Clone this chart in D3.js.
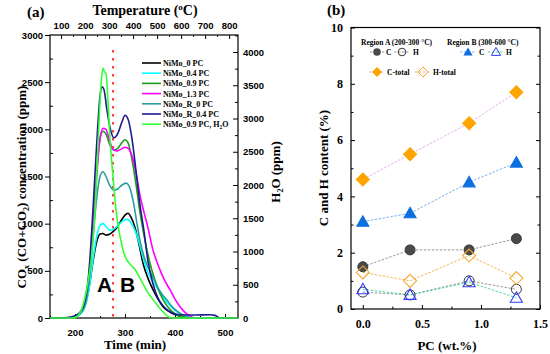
<!DOCTYPE html>
<style>
body { margin: 0; background: #fff; }
svg text { font-weight: bold; }
.axis .domain { display: none; }
.axis line { stroke: #000; stroke-width: 1; }
</style>
<svg width="550" height="354" font-family="'Liberation Serif', 'Times New Roman', serif"></svg>
<script src="https://d3js.org/d3.v7.min.js"></script>
<script>
// ---- panel (a) data: [time (min), ppm] ----
var nimo0 = [[150,0],[185,0],[200,15],[210,45],[220,130],[228,320],[236,600],[244,820],[250,890],[256,895],[262,880],[268,885],[276,915],[284,960],[292,1030],[300,1090],[306,1110],[312,1070],[320,960],[328,780],[336,580],[346,420],[356,300],[366,200],[376,120],[386,75],[396,45],[410,20],[425,5],[435,0],[525,0]];
var nimo04 = [[150,0],[190,0],[200,12],[210,40],[220,120],[228,300],[236,620],[244,880],[250,980],[256,1000],[262,970],[270,930],[278,945],[286,980],[296,1030],[304,1045],[312,1010],[320,930],[328,800],[336,640],[346,480],[356,380],[364,320],[376,220],[390,130],[404,65],[416,28],[428,8],[440,0],[525,0]];
var nimo09 = [[150,0],[190,0],[200,15],[210,50],[220,160],[228,450],[236,1000],[244,1600],[250,1900],[256,1980],[262,1950],[270,1830],[278,1780],[286,1800],[294,1860],[300,1890],[306,1860],[314,1680],[322,1420],[330,1120],[340,820],[350,580],[360,400],[370,260],[380,160],[390,90],[400,45],[412,15],[425,0],[525,0]];
var nimo13 = [[150,0],[190,0],[200,15],[210,50],[220,150],[228,420],[236,950],[244,1550],[250,1900],[256,2010],[262,2000],[268,1900],[276,1790],[284,1770],[292,1790],[300,1810],[306,1800],[314,1720],[322,1540],[330,1300],[338,1120],[344,1000],[356,720],[370,510],[380,390],[390,300],[400,200],[410,120],[420,60],[430,20],[440,0],[525,0]];
var nimoR0 = [[150,0],[190,0],[200,15],[210,45],[220,140],[228,380],[236,850],[244,1300],[250,1500],[256,1550],[262,1500],[270,1400],[278,1355],[286,1370],[294,1410],[302,1430],[308,1400],[316,1250],[324,1000],[330,820],[338,650],[346,540],[356,430],[366,320],[376,240],[384,190],[396,110],[410,50],[422,15],[435,0],[525,0]];
var nimoR04 = [[150,0],[170,0],[185,5],[200,25],[210,60],[220,180],[228,500],[236,1150],[244,1900],[250,2350],[254,2450],[258,2420],[264,2200],[270,2020],[278,1910],[286,1960],[294,2080],[300,2150],[306,2110],[314,1900],[322,1560],[330,1200],[338,920],[346,600],[356,360],[366,210],[376,130],[386,80],[396,50],[410,35],[440,32],[470,35],[480,28],[487,5],[490,0],[525,0]];
// H2O, right axis units
var nimo09H2O = [[150,0],[195,0],[205,30],[215,170],[225,500],[233,920],[240,1600],[246,2600],[252,3500],[256,3760],[259,3700],[262,3680],[266,3250],[270,2700],[276,2130],[282,1630],[290,1230],[300,930],[310,810],[320,730],[330,600],[345,390],[360,240],[375,100],[390,8],[400,0],[525,0]];

var seriesNames = ["NiMo_0 PC", "NiMo_0.4 PC", "NiMo_0.9 PC", "NiMo_1.3 PC", "NiMo_R_0 PC", "NiMo_R_0.4 PC", "NiMo_0.9 PC, H2O"];
var seriesColors = ["#000000", "#00ffff", "#1e9a1e", "#ff00ff", "#2a9d9d", "#1c1c90", "#33ff33"];
var seriesData = [nimo0, nimo04, nimo09, nimo13, nimoR0, nimoR04, nimo09H2O];

var timeTicks = [200, 300, 400, 500];
var tempTicks = [100, 200, 300, 400, 500, 600, 700, 800];
var coxTicks = [0, 500, 1000, 1500, 2000, 2500, 3000];
var h2oTicks = [0, 500, 1000, 1500, 2000, 2500, 3000, 3500, 4000];
var splitTime = 276;

// ---- panel (b) data ----
var pc = [0, 0.4, 0.9, 1.3];
var cTotal = [4.6, 5.5, 6.6, 7.7];
var hTotal = [1.3, 1.0, 1.9, 1.1];
var regionAC = [1.5, 2.1, 2.1, 2.5];
var regionAH = [0.6, 0.5, 1.0, 0.7];
var regionBC = [3.1, 3.4, 4.5, 5.2];
var regionBH = [0.7, 0.5, 0.95, 0.4];
var pcTicks = [0, 0.5, 1.0, 1.5];
var contentTicks = [0, 2, 4, 6, 8, 10];

var svg = d3.select("svg");
var SANS = "'Liberation Sans', Arial, sans-serif";
var SERIF = "'Liberation Serif', 'Times New Roman', serif";

// ================= panel (a) =================
var a = {left: 50, right: 238, top: 35, bottom: 318};
var x = d3.scaleLinear().domain([150, 526]).range([a.left, a.right]);
var xTemp = d3.scaleLinear().domain([54, 837]).range([a.left, a.right]);
var yL = d3.scaleLinear().domain([0, 3000]).range([a.bottom, a.top]);
var yR = d3.scaleLinear().domain([0, 4256]).range([a.bottom, a.top]);

function styleTicks(g, family, size) {
  g.attr("font-family", null).attr("font-size", null);
  g.selectAll("text")
    .style("font-family", family)
    .style("font-weight", "bold")
    .style("font-size", size + "px");
}

// minor ticks
svg.append("g").attr("class", "axis")
    .attr("transform", "translate(" + a.left + ",0)")
    .call(d3.axisLeft(yL).tickValues(d3.range(250, 3000, 500)).tickSize(-3).tickFormat(""));
svg.append("g").attr("class", "axis")
    .attr("transform", "translate(" + a.right + ",0)")
    .call(d3.axisRight(yR).tickValues(d3.range(250, 4256, 500)).tickSize(-3).tickFormat(""));
svg.append("g").attr("class", "axis")
    .attr("transform", "translate(0," + a.bottom + ")")
    .call(d3.axisBottom(x).tickValues([150, 250, 350, 450]).tickSize(-2).tickFormat(""));
svg.append("g").attr("class", "axis")
    .attr("transform", "translate(0," + a.top + ")")
    .call(d3.axisTop(xTemp).tickValues(d3.range(150, 837, 100)).tickSize(-2).tickFormat(""));

var fmt = d3.format("d");
var axL = svg.append("g").attr("class", "axis")
    .attr("transform", "translate(" + a.left + ",0)")
    .call(d3.axisLeft(yL).tickValues(coxTicks).tickSize(5).tickPadding(2).tickFormat(fmt));
styleTicks(axL, SANS, 9.5);

var axR = svg.append("g").attr("class", "axis")
    .attr("transform", "translate(" + a.right + ",0)")
    .call(d3.axisRight(yR).tickValues(h2oTicks).tickSize(-5).tickPadding(5).tickFormat(fmt));
styleTicks(axR, SANS, 9.5);

var axB = svg.append("g").attr("class", "axis")
    .attr("transform", "translate(0," + a.bottom + ")")
    .call(d3.axisBottom(x).tickValues(timeTicks).tickSize(-4).tickFormat(fmt));
styleTicks(axB, SANS, 9.5);
axB.selectAll("text").attr("y", 18).attr("dy", null);

var axT = svg.append("g").attr("class", "axis")
    .attr("transform", "translate(0," + a.top + ")")
    .call(d3.axisTop(xTemp).tickValues(tempTicks).tickSize(-4).tickPadding(6).tickFormat(fmt));
styleTicks(axT, SANS, 9.5);

svg.append("rect")
    .attr("x", a.left).attr("y", a.top)
    .attr("width", a.right - a.left).attr("height", a.bottom - a.top)
    .attr("fill", "none").attr("stroke", "#000").attr("stroke-width", 1.2);

// split line
svg.append("line")
    .attr("x1", x(splitTime)).attr("x2", x(splitTime))
    .attr("y1", 50).attr("y2", a.bottom)
    .attr("stroke", "#ff2a2a").attr("stroke-width", 1.8)
    .attr("stroke-dasharray", "2.5,5.5");

// curves
seriesData.forEach(function(d, i) {
  var yy = i === 6 ? yR : yL;
  var line = d3.line()
      .x(function(p) { return x(p[0]); })
      .y(function(p) { return yy(p[1]); })
      .curve(d3.curveMonotoneX);
  svg.append("path")
      .datum(d)
      .attr("d", line)
      .attr("fill", "none")
      .attr("stroke", seriesColors[i])
      .attr("stroke-width", 1.6);
});

svg.append("text").attr("x", 97).attr("y", 292)
    .style("font-family", SANS).attr("font-size", 21).text("A");
svg.append("text").attr("x", 120).attr("y", 292)
    .style("font-family", SANS).attr("font-size", 21).text("B");

// legend (a)
var legA = svg.append("g");
seriesNames.forEach(function(name, i) {
  var cy = 63 + i * 10.2;
  legA.append("line")
      .attr("x1", 142).attr("x2", 161).attr("y1", cy).attr("y2", cy)
      .attr("stroke", seriesColors[i]).attr("stroke-width", 1.6);
  var t = legA.append("text").attr("x", 163).attr("y", cy + 3).attr("font-size", 8);
  if (name.indexOf("H2O") >= 0) {
    t.append("tspan").text("NiMo_0.9 PC, H");
    t.append("tspan").attr("font-size", 5.5).attr("dy", 2).text("2");
    t.append("tspan").attr("dy", -2).text("O");
  } else {
    t.text(name);
  }
});

// titles (a)
svg.append("text").attr("x", 27).attr("y", 17).attr("font-size", 15).text("(a)");
var tt = svg.append("text").attr("x", 145).attr("y", 15).attr("font-size", 14).attr("text-anchor", "middle");
tt.append("tspan").text("Temperature (");
tt.append("tspan").attr("font-size", 9).attr("dy", -5).text("o");
tt.append("tspan").attr("dy", 5).text("C)");

var yt = svg.append("text").attr("transform", "translate(26,187) rotate(-90)")
    .attr("font-size", 13).attr("text-anchor", "middle");
yt.append("tspan").text("CO");
yt.append("tspan").attr("font-size", 8).attr("dy", 3).text("x");
yt.append("tspan").attr("dy", -3).text(" (CO+CO");
yt.append("tspan").attr("font-size", 8).attr("dy", 3).text("2");
yt.append("tspan").attr("dy", -3).text(") concentration (ppm)");

var yt2 = svg.append("text").attr("transform", "translate(280,172) rotate(-90)")
    .attr("font-size", 13).attr("text-anchor", "middle");
yt2.append("tspan").text("H");
yt2.append("tspan").attr("font-size", 8).attr("dy", 3).text("2");
yt2.append("tspan").attr("dy", -3).text("O (ppm)");

svg.append("text").attr("x", 135).attr("y", 349).attr("font-size", 13)
    .attr("text-anchor", "middle").text("Time (min)");

// ================= panel (b) =================
var b = {left: 351, right: 540, top: 27.5, bottom: 309};
var xb = d3.scaleLinear().domain([-0.1, 1.5]).range([b.left, b.right]);
var yb = d3.scaleLinear().domain([0, 10]).range([b.bottom, b.top]);

svg.append("g").attr("class", "axis")
    .attr("transform", "translate(" + b.left + ",0)")
    .call(d3.axisLeft(yb).tickValues([1, 3, 5, 7, 9]).tickSize(-2.5).tickFormat(""));
svg.append("g").attr("class", "axis")
    .attr("transform", "translate(" + b.right + ",0)")
    .call(d3.axisRight(yb).tickValues([1, 3, 5, 7, 9]).tickSize(-2.5).tickFormat(""));
svg.append("g").attr("class", "axis")
    .attr("transform", "translate(0," + b.bottom + ")")
    .call(d3.axisBottom(xb).tickValues([0.25, 0.75, 1.25]).tickSize(-2.5).tickFormat(""));

var bL = svg.append("g").attr("class", "axis")
    .attr("transform", "translate(" + b.left + ",0)")
    .call(d3.axisLeft(yb).tickValues(contentTicks).tickSize(-4).tickPadding(8).tickFormat(fmt));
styleTicks(bL, SERIF, 12);
svg.append("g").attr("class", "axis")
    .attr("transform", "translate(" + b.right + ",0)")
    .call(d3.axisRight(yb).tickValues(contentTicks).tickSize(-4).tickFormat(""));
var bB = svg.append("g").attr("class", "axis")
    .attr("transform", "translate(0," + b.bottom + ")")
    .call(d3.axisBottom(xb).tickValues(pcTicks).tickSize(-4).tickFormat(d3.format(".1f")));
styleTicks(bB, SERIF, 12);
bB.selectAll("text").attr("y", 19).attr("dy", null);

svg.append("rect")
    .attr("x", b.left).attr("y", b.top)
    .attr("width", b.right - b.left).attr("height", b.bottom - b.top)
    .attr("fill", "none").attr("stroke", "#000").attr("stroke-width", 1.2);

var diamond = "M0,-6.5L6.5,0L0,6.5L-6.5,0Z";
var triangle = "M0,-6L6,4.5L-6,4.5Z";
var diamondS = "M0,-5L5,0L0,5L-5,0Z";
var triangleS = "M0,-4.6L4.6,3.4L-4.6,3.4Z";

var bSeries = [
  {v: regionAC, line: "#8c8c8c", shape: "circle", fill: "#4a4a4a", stroke: "#3a3a3a"},
  {v: regionAH, line: "#8c8c8c", shape: "circle", fill: "none", stroke: "#333"},
  {v: regionBC, line: "#6aa9ec", shape: triangle, fill: "#0d6fe0", stroke: "#0d6fe0"},
  {v: regionBH, line: "#3fcf9f", shape: triangle, fill: "none", stroke: "#2b3cff"},
  {v: cTotal, line: "#e6a0e6", shape: diamond, fill: "#ffa500", stroke: "#ffa500"},
  {v: hTotal, line: "#f2b13c", shape: diamond, fill: "none", stroke: "#f0a830"}
];

var lineB = d3.line()
    .x(function(d, i) { return xb(pc[i]); })
    .y(function(d) { return yb(d); });

bSeries.forEach(function(s) {
  svg.append("path").datum(s.v).attr("d", lineB)
      .attr("fill", "none").attr("stroke", s.line)
      .attr("stroke-width", 0.9).attr("stroke-dasharray", "2.5,1.5");
});
bSeries.forEach(function(s) {
  var g = svg.append("g").selectAll("g").data(s.v).enter().append("g")
      .attr("transform", function(d, i) { return "translate(" + xb(pc[i]) + "," + yb(d) + ")"; });
  if (s.shape === "circle") {
    g.append("circle").attr("r", 5).attr("fill", s.fill).attr("stroke", s.stroke).attr("stroke-width", 1);
  } else {
    g.append("path").attr("d", s.shape).attr("fill", s.fill).attr("stroke", s.stroke).attr("stroke-width", 1.1);
  }
});

// legend (b)
var legB = svg.append("g").attr("font-size", 7.5);
legB.append("text").attr("x", 361).attr("y", 45).text("Region A (200-300 \u00b0C)");
legB.append("text").attr("x", 447).attr("y", 45).text("Region B (300-600 \u00b0C)");

function legItem(x1, x2, cy, color, shapeFn) {
  legB.append("line").attr("x1", x1).attr("x2", x2).attr("y1", cy).attr("y2", cy)
      .attr("stroke", color).attr("stroke-width", 0.9).attr("stroke-dasharray", "2.5,1.5");
  shapeFn(legB.append("g").attr("transform", "translate(" + ((x1 + x2) / 2) + "," + cy + ")"));
}
legItem(370, 384, 52, "#8c8c8c", function(g) { g.append("circle").attr("r", 3.8).attr("fill", "#4a4a4a"); });
legB.append("text").attr("x", 386).attr("y", 55).text("C");
legItem(394, 410, 52, "#8c8c8c", function(g) { g.append("circle").attr("r", 3.8).attr("fill", "none").attr("stroke", "#333"); });
legB.append("text").attr("x", 413).attr("y", 55).text("H");
legItem(460, 476, 52, "#6aa9ec", function(g) { g.append("path").attr("d", triangleS).attr("fill", "#0d6fe0"); });
legB.append("text").attr("x", 479).attr("y", 55).text("C");
legItem(488, 504, 52, "#3fcf9f", function(g) { g.append("path").attr("d", triangleS).attr("fill", "none").attr("stroke", "#2b3cff"); });
legB.append("text").attr("x", 506).attr("y", 55).text("H");
legItem(369, 385, 72, "#e6a0e6", function(g) { g.append("path").attr("d", diamondS).attr("fill", "#ffa500"); });
legB.append("text").attr("x", 387).attr("y", 75).text("C-total");
legItem(415, 431, 72, "#f2b13c", function(g) { g.append("path").attr("d", diamondS).attr("fill", "none").attr("stroke", "#f0a830"); });
legB.append("text").attr("x", 433).attr("y", 75).text("H-total");

svg.append("text").attr("x", 327).attr("y", 15).attr("font-size", 15).text("(b)");
svg.append("text").attr("transform", "translate(328,168) rotate(-90)")
    .attr("font-size", 13).attr("text-anchor", "middle").text("C and H content (%)");
svg.append("text").attr("x", 447).attr("y", 350).attr("font-size", 13)
    .attr("text-anchor", "middle").text("PC (wt.%)");
</script>
